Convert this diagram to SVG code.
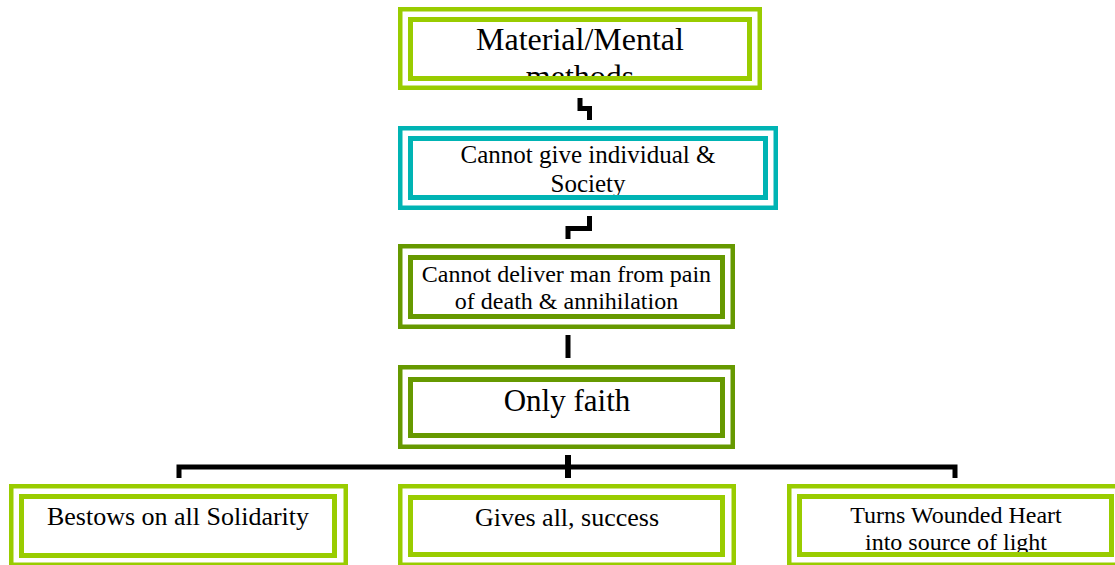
<svg xmlns="http://www.w3.org/2000/svg" width="1115" height="565" viewBox="0 0 1115 565">
<style>
.o{fill:none;stroke-width:4.5}
.i{fill:#fff;stroke-width:5}
.lime{stroke:#99CC00}
.teal{stroke:#00B4B4}
.olive{stroke:#669900}
text{fill:#000;text-anchor:middle}
.c{fill:none;stroke:#000;stroke-width:5;stroke-linejoin:miter;stroke-linecap:butt}
</style>
<defs>
<clipPath id="cp1"><rect x="413" y="22" width="334" height="54"/></clipPath>
<clipPath id="cp2"><rect x="413" y="141" width="350" height="54"/></clipPath>
<clipPath id="cp7"><rect x="802" y="500" width="307" height="52"/></clipPath>
</defs>
<rect width="1115" height="565" fill="#fff"/>
<g id="connectors">
<path class="c" d="M580,98 V108.5 H589.5 V120"/>
<path class="c" d="M589.5,216 V228.5 H568 V239"/>
<path class="c" d="M568,335 V358"/>
<path class="c" d="M179,478 V467 H955 V478"/>
<path class="c" style="stroke-width:6" d="M568,455 V478"/>
</g>
<g font-family="Liberation Serif, DejaVu Serif, serif">
<g id="n1">
<rect class="o lime" x="400.25" y="9.25" width="359.5" height="78.5"/>
<rect class="i lime" x="410.5" y="19.5" width="339" height="59"/>
<g clip-path="url(#cp1)"><text x="580" y="50" font-size="32">Material/Mental</text><text x="580" y="87" font-size="32">methods</text></g>
</g>
<g id="n2">
<rect class="o teal" x="400.25" y="128.25" width="375.5" height="79.5"/>
<rect class="i teal" x="410.5" y="138.5" width="355" height="59"/>
<g clip-path="url(#cp2)"><text x="588" y="163" font-size="25">Cannot give individual &amp;</text><text x="588" y="192" font-size="25">Society</text></g>
</g>
<g id="n3">
<rect class="o olive" x="400.25" y="246.25" width="332.5" height="80.5"/>
<rect class="i olive" x="410.5" y="257.5" width="312" height="59"/>
<text x="566.5" y="282" font-size="24">Cannot deliver man from pain</text>
<text x="566.5" y="309" font-size="24">of death &amp; annihilation</text>
</g>
<g id="n4">
<rect class="o olive" x="400.25" y="367.25" width="332.5" height="79.5"/>
<rect class="i olive" x="410.5" y="379.5" width="312" height="56"/>
<text x="567" y="411" font-size="31">Only faith</text>
</g>
<g id="n5">
<rect class="o lime" x="11.25" y="486.25" width="334.5" height="78.5"/>
<rect class="i lime" x="21.5" y="496.5" width="313" height="59"/>
<text x="178" y="525" font-size="26">Bestows on all Solidarity</text>
</g>
<g id="n6">
<rect class="o lime" x="400.25" y="486.25" width="333.5" height="78.5"/>
<rect class="i lime" x="410.5" y="497.5" width="312" height="57"/>
<text x="567" y="526" font-size="26">Gives all, success</text>
</g>
<g id="n7">
<rect class="o lime" x="789.25" y="486.25" width="332.5" height="78.5"/>
<rect class="i lime" x="799.5" y="496.5" width="312" height="58"/>
<g clip-path="url(#cp7)"><text x="956" y="523" font-size="24">Turns Wounded Heart</text><text x="956" y="550" font-size="24">into source of light</text></g>
</g>
</g>
</svg>
